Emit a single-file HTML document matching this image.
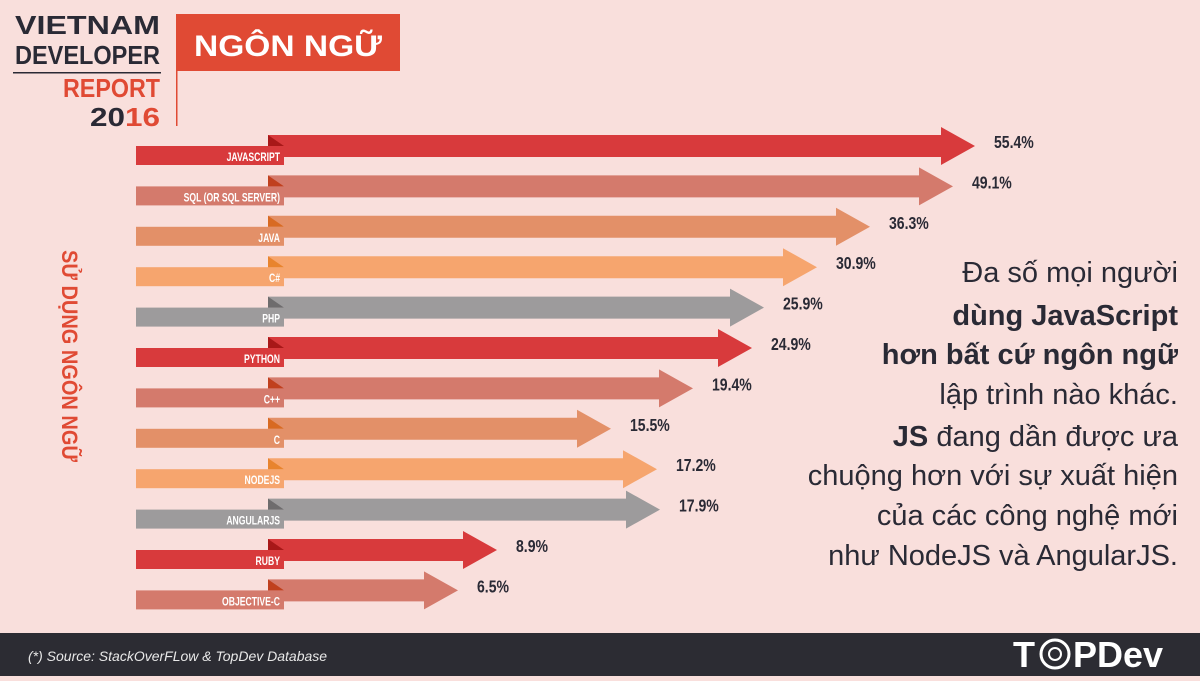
<!DOCTYPE html>
<html><head><meta charset="utf-8"><style>
body{margin:0;width:1200px;height:676px;overflow:hidden;background:#f9dfdc;font-family:"Liberation Sans",sans-serif}
</style></head><body>
<svg width="1200" height="676" viewBox="0 0 1200 676" xmlns="http://www.w3.org/2000/svg">
<rect width="1200" height="676" fill="#f9dfdc"/>
<g font-family="Liberation Sans, sans-serif" font-weight="bold">
<text x="15" y="34" font-size="26" fill="#2a2a35" textLength="145" lengthAdjust="spacingAndGlyphs">VIETNAM</text>
<text x="15" y="64" font-size="26" fill="#2a2a35" textLength="145" lengthAdjust="spacingAndGlyphs">DEVELOPER</text>
<text x="63" y="97" font-size="26" fill="#e04a34" textLength="97" lengthAdjust="spacingAndGlyphs">REPORT</text>
<text x="90" y="126" font-size="26" fill="#2a2a35" textLength="70" lengthAdjust="spacingAndGlyphs">20<tspan fill="#e04a34">16</tspan></text>
</g>
<rect x="13" y="72" width="148" height="1.5" fill="#2a2a35"/>
<rect x="176" y="14" width="224" height="57" fill="#e04a34"/>
<rect x="176" y="14" width="1.5" height="112" fill="#e04a34"/>
<text x="194" y="56" textLength="188" lengthAdjust="spacingAndGlyphs" font-size="30" font-weight="bold" fill="#fff" font-family="Liberation Sans, sans-serif">NGÔN NGỮ</text>
<text transform="translate(62,250) rotate(90)" textLength="212" lengthAdjust="spacingAndGlyphs" font-size="22" font-weight="bold" fill="#e04a34" font-family="Liberation Sans, sans-serif">SỬ DỤNG NGÔN NGỮ</text>
<g id="bars" font-family="Liberation Sans, sans-serif" font-weight="bold"></g>
<g font-family="Liberation Sans, sans-serif" font-size="29" fill="#2a2a35" text-anchor="end">
<text x="1178" y="282">Đa số mọi người</text>
<text x="1178" y="325" font-weight="bold">dùng JavaScript</text>
<text x="1178" y="364" font-weight="bold">hơn bất cứ ngôn ngữ</text>
<text x="1178" y="404">lập trình nào khác.</text>
<text x="1178" y="446"><tspan font-weight="bold">JS</tspan> đang dần được ưa</text>
<text x="1178" y="485">chuộng hơn với sự xuất hiện</text>
<text x="1178" y="525">của các công nghệ mới</text>
<text x="1178" y="565">như NodeJS và AngularJS.</text>
</g>
<rect x="0" y="633" width="1200" height="43" fill="#2c2c33"/>
<text x="28" y="661" font-size="14" font-style="italic" fill="#e8e8e8" font-family="Liberation Sans, sans-serif">(*) Source: StackOverFLow &amp; TopDev Database</text>
<g font-family="Liberation Sans, sans-serif" font-weight="bold" font-size="36" fill="#fff">
<text x="1013" y="667">T</text>
<circle cx="1055" cy="654" r="14" fill="none" stroke="#fff" stroke-width="3"/>
<circle cx="1055" cy="654" r="6" fill="none" stroke="#fff" stroke-width="2"/>
<text x="1073" y="667">PDev</text>
</g>
</svg>
<script>
var rows=[["JAVASCRIPT",975,"55.4%","#d83a3c"],["SQL (OR SQL SERVER)",953,"49.1%","#d47a6c"],["JAVA",870,"36.3%","#e39068"],["C#",817,"30.9%","#f6a56e"],["PHP",764,"25.9%","#9d9b9c"],["PYTHON",752,"24.9%","#d83a3c"],["C++",693,"19.4%","#d47a6c"],["C",611,"15.5%","#e39068"],["NODEJS",657,"17.2%","#f6a56e"],["ANGULARJS",660,"17.9%","#9d9b9c"],["RUBY",497,"8.9%","#d83a3c"],["OBJECTIVE-C",458,"6.5%","#d47a6c"]];
var darks={"#d83a3c":"#a81818","#d47a6c":"#c0401e","#e39068":"#d86a22","#f6a56e":"#e8842e","#9d9b9c":"#6e6c6d"};
var g=document.getElementById("bars"),h="";
rows.forEach(function(r,i){var c=146+40.4*i,t=r[1],hs=t-34;
h+='<rect x="136" y="'+c+'" width="148" height="19" fill="'+r[3]+'"/>';
h+='<polygon points="268,'+(c-11)+' '+hs+','+(c-11)+' '+hs+','+(c-19)+' '+t+','+c+' '+hs+','+(c+19)+' '+hs+','+(c+11)+' 284,'+(c+11)+' 284,'+c+' 268,'+c+'" fill="'+r[3]+'"/>';
h+='<polygon points="268,'+(c-11)+' 284,'+c+' 268,'+c+'" fill="'+darks[r[3]]+'"/>';
h+='<text transform="translate(280,'+(c+15)+') scale(0.72,1)" text-anchor="end" font-size="12" fill="#fff">'+r[0]+'</text>';
h+='<text transform="translate('+(t+19)+','+(c+2)+') scale(0.78,1)" font-size="18" fill="#2a2a35">'+r[2]+'</text>';});
g.innerHTML=h;
</script>
</body></html>
